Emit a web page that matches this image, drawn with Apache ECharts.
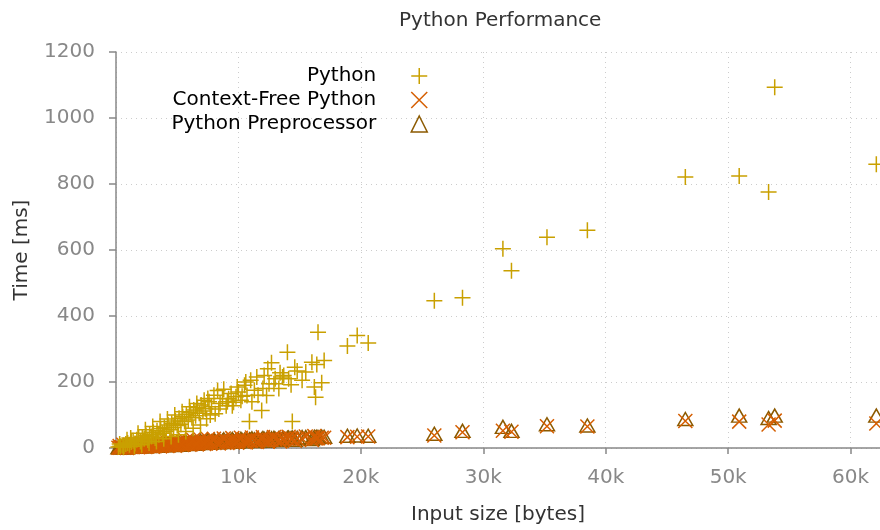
<!DOCTYPE html>
<html>
<head>
<meta charset="utf-8">
<title>Python Performance</title>
<script src="https://cdn.jsdelivr.net/npm/echarts@6/dist/echarts.min.js"></script>
<style>
    html, body {margin: 0; padding: 0; background: #fff;}
    #chart {width: 880px; height: 530px;}
</style>
</head>
<body>
<div id="chart"></div>
<script>
// input sizes in bytes (shared by all three runs)
const sizes = [
    200, 350, 500, 650, 800, 950, 1100, 1250, 1400, 1550,
    1700, 1850, 2000, 2150, 2300, 2450, 2600, 2750, 2900, 3050,
    3200, 3350, 3500, 3650, 3800, 3950, 4100, 4250, 4400, 4550,
    4700, 4850, 5000, 5150, 5300, 5450, 5600, 5750, 5900, 6050,
    6200, 6350, 6500, 6650, 6800, 6950, 7100, 7300, 7400, 7600,
    7800, 8100, 8300, 8500, 8700, 9000, 9200, 9400, 9600, 9800,
    10000, 10300, 10500, 10700, 10900, 11000, 11300, 11600, 11900, 12100,
    12300, 12500, 12700, 13000, 13300, 13600, 13700, 14000, 14300, 14400,
    14800, 15200, 16300, 16400, 16500, 16800, 17000, 18900, 19700, 20600,
    26000, 28300, 31600, 32300, 35200, 38500, 46500, 50900, 53300, 53800, 62100,
    300, 600, 900, 1200, 1500, 1800, 2100, 2400, 2700, 3000,
    3300, 3600, 3900, 4200, 4500, 4800, 5100, 5400, 5700, 6000,
    6300, 6600, 6900, 7200, 7500, 7700, 8000, 8400, 8800, 9100,
    9500, 9900, 10200, 10600, 11100, 11500, 12000, 12400, 12900, 13400,
    14100, 14600, 15500, 16000, 16200
];
// time in ms
const pythonMs = [
    3, 5, 8, 6, 12, 15, 10, 18, 22, 14,
    25, 30, 20, 33, 28, 38, 24, 42, 35, 48,
    30, 52, 40, 58, 45, 62, 50, 70, 55, 75,
    62, 82, 68, 90, 72, 95, 80, 102, 85, 108,
    92, 115, 98, 122, 105, 130, 112, 119, 89, 140,
    125, 104, 174, 135, 150, 128, 149, 165, 139, 155,
    170, 157, 190, 159, 80, 205, 175, 160, 114, 220,
    159, 195, 258, 210, 180, 215, 220, 290, 192, 80,
    233, 205, 154, 253, 351, 198, 265, 309, 341, 318,
    446, 455, 604, 537, 639, 660, 821, 824, 776, 1093, 860,
    12, 2, 25, 30, 5, 45, 10, 55, 15, 65,
    20, 80, 28, 88, 35, 100, 40, 110, 50, 125,
    60, 135, 70, 145, 150, 100, 160, 118, 178, 140,
    128, 185, 145, 200, 140, 215, 180, 240, 195, 228,
    210, 245, 230, 260, 185
];
const contextFreeMs = [
    1, 1, 2, 1, 2, 2, 3, 3, 3, 4,
    4, 4, 5, 5, 5, 6, 6, 6, 7, 7,
    7, 8, 8, 8, 9, 9, 9, 10, 10, 10,
    11, 11, 11, 12, 12, 12, 13, 13, 13, 14,
    14, 14, 15, 15, 15, 16, 16, 16, 17, 17,
    17, 18, 18, 18, 19, 19, 19, 20, 20, 20,
    21, 21, 21, 22, 22, 22, 23, 23, 24, 24,
    24, 25, 25, 26, 26, 26, 27, 27, 28, 28,
    28, 29, 29, 30, 30, 31, 31, 33, 34, 35,
    38, 48, 52, 49, 66, 65, 82, 80, 71, 83, 74,
    6, 10, 0, 8, 12, 2, 14, 3, 15, 4,
    18, 5, 17, 6, 20, 7, 22, 9, 23, 10,
    25, 11, 26, 12, 27, 13, 28, 14, 29, 15,
    30, 16, 31, 17, 32, 18, 33, 19, 33, 20,
    34, 22, 35, 24, 36
];
const preprocessorMs = [
    2, 2, 3, 2, 3, 4, 4, 5, 4, 5,
    6, 5, 6, 7, 6, 7, 8, 7, 8, 9,
    9, 10, 9, 10, 11, 10, 11, 12, 11, 12,
    13, 12, 13, 14, 13, 14, 15, 14, 16, 15,
    16, 17, 16, 17, 18, 17, 18, 19, 19, 18,
    20, 20, 21, 20, 22, 21, 22, 23, 22, 24,
    23, 24, 25, 24, 26, 25, 26, 27, 26, 28,
    27, 28, 29, 28, 30, 29, 30, 31, 30, 32,
    31, 33, 32, 34, 33, 35, 34, 37, 38, 37,
    43, 52, 64, 52, 72, 68, 88, 98, 91, 98, 98,
    4, 8, 2, 6, 9, 4, 12, 5, 12, 6,
    14, 7, 15, 8, 16, 9, 18, 10, 19, 12,
    21, 13, 22, 15, 24, 16, 25, 17, 26, 18,
    27, 19, 28, 20, 29, 21, 30, 22, 31, 24,
    32, 25, 33, 27, 34
];
const yTicks = [0, 200, 400, 600, 800, 1000, 1200];

const FONT = 'DejaVu Sans';
const PLUS = 'path://M0,8L16,8M8,0L8,16';
const CROSS = 'path://M0,0L14,14M0,14L14,0';

function pairs(ys) {
    return sizes.map((x, i) => [x, ys[i]]);
}

const chart = echarts.init(document.getElementById('chart'), null, {renderer: 'canvas'});

const option = {
    animation: false,
    backgroundColor: '#fff',
    textStyle: {fontFamily: FONT},
    title: {
        text: 'Python Performance',
        left: 394,
        top: 6,
        textStyle: {fontFamily: FONT, fontSize: 20, fontWeight: 'normal', color: '#333'}
    },
    legend: {
        data: ['Python', 'Context-Free Python', 'Python Preprocessor'],
        orient: 'vertical',
        align: 'right',
        right: 452,
        top: 66,
        padding: 0,
        itemWidth: 16,
        itemHeight: 16,
        itemGap: 4,
        itemStyle: {borderWidth: 1.5},
        textStyle: {fontFamily: FONT, fontSize: 20, color: '#000', padding: [0, 30, 0, 0]}
    },
    grid: {left: 116, right: 0, top: 52, bottom: 81, containLabel: false},
    xAxis: {
        type: 'value',
        min: 0,
        max: 62400,
        interval: 10000,
        name: 'Input size [bytes]',
        nameLocation: 'middle',
        nameGap: 57,
        nameTextStyle: {fontFamily: FONT, fontSize: 20, color: '#333'},
        axisLine: {show: true, onZero: false, lineStyle: {color: '#888', width: 1.5}},
        axisTick: {show: true, length: 6, lineStyle: {color: '#888', width: 1.5}},
        axisLabel: {
            margin: 20,
            fontFamily: FONT,
            fontSize: 20,
            color: '#888',
            showMaxLabel: false,
            formatter: v => v === 0 ? '' : (v / 1000) + 'k'
        },
        splitLine: {show: true, lineStyle: {color: '#ccc', type: [1, 4], width: 1}}
    },
    yAxis: {
        type: 'value',
        min: yTicks[0],
        max: yTicks[yTicks.length - 1],
        interval: yTicks[1] - yTicks[0],
        name: 'Time [ms]',
        nameLocation: 'middle',
        nameGap: 84,
        nameTextStyle: {fontFamily: FONT, fontSize: 20, color: '#333'},
        axisLine: {show: true, lineStyle: {color: '#888', width: 1.5}},
        axisTick: {show: true, length: 7, lineStyle: {color: '#888', width: 1.5}},
        axisLabel: {margin: 21, fontFamily: FONT, fontSize: 20, color: '#888', formatter: v => String(v)},
        splitLine: {show: true, lineStyle: {color: '#ccc', type: [1, 4], width: 1}}
    },
    series: [
        {
            name: 'Python Preprocessor',
            type: 'scatter',
            symbol: 'triangle',
            symbolSize: [15, 13],
            itemStyle: {color: 'rgba(0,0,0,0)', borderColor: '#8c5a00', borderWidth: 1.5, opacity: 1},
            data: pairs(preprocessorMs)
        },
        {
            name: 'Context-Free Python',
            type: 'scatter',
            symbol: CROSS,
            symbolSize: 14,
            itemStyle: {color: 'rgba(0,0,0,0)', borderColor: '#d55e00', borderWidth: 1.5, opacity: 1},
            data: pairs(contextFreeMs)
        },
        {
            name: 'Python',
            type: 'scatter',
            symbol: PLUS,
            symbolSize: 16,
            itemStyle: {color: 'rgba(0,0,0,0)', borderColor: '#c9a000', borderWidth: 1.5, opacity: 1},
            data: pairs(pythonMs)
        }
    ]
};

chart.setOption(option);
</script>
</body>
</html>
